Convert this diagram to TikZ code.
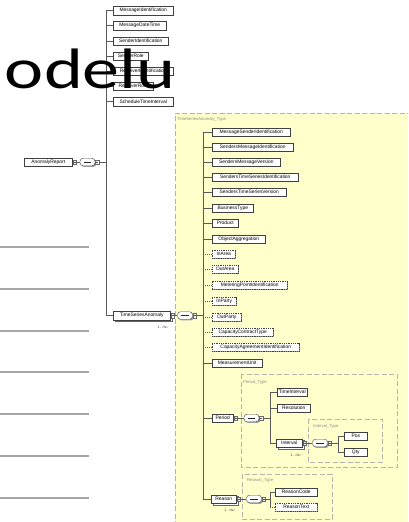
\documentclass[tikz,border=0pt]{standalone}
\usepackage{fontspec}
\newfontfamily\bigfont{Carlito}
\newfontfamily\smfont{Liberation Sans}
\usetikzlibrary{shadows,calc}
\definecolor{typeyellow}{RGB}{255,255,204}
\definecolor{dashgrey}{RGB}{180,180,170}
\tikzset{
  x=1pt,y=-1pt,
  shd/.style={drop shadow={shadow xshift=1.2pt,shadow yshift=-1.2pt,fill=black!40,opacity=1}},
  el/.style={draw=black!75,fill=white,line width=0.5pt,anchor=west,inner sep=0pt,minimum height=8.5pt,
    font=\smfont\fontsize{4.9}{5.5}\selectfont,text=black,shd},
  opt/.style={el,dash pattern=on 1pt off 0.8pt},
  multi/.style={el,copy shadow={shadow xshift=1.8pt,shadow yshift=-1.8pt,fill=white,draw=black!60}},
  seq/.style={draw=black!70,fill=white,rounded corners=3pt,minimum width=15pt,minimum height=7.5pt,inner sep=0pt,line width=0.45pt,shd},
  sq/.style={draw=black!60,fill=white,minimum width=3.6pt,minimum height=4.6pt,inner sep=0pt,line width=0.4pt,anchor=west,
    path picture={\draw[black!70,line width=0.35pt] ([xshift=-1pt]path picture bounding box.center) -- ([xshift=1pt]path picture bounding box.center);}},
  conn/.style={draw=black!65,line width=0.5pt},
  optconn/.style={conn,dash pattern=on 1pt off 1pt},
  typebox/.style={draw=dashgrey,fill=typeyellow,line width=0.8pt,dash pattern=on 5pt off 2.5pt},
  typelbl/.style={font=\smfont\fontsize{4.2}{5}\selectfont,text=black!45,anchor=west,inner sep=0pt},
  mult/.style={font=\smfont\fontsize{3.8}{4}\selectfont,text=black!70,inner sep=0pt},
  slideline/.style={draw=black!35,line width=1.5pt},
}
\newcommand{\compo}[3]{% name, center x, center y
  \node[seq] (#1) at (#2,#3) {};
  \fill[black!85] ($(#1.center)+(-3.8,-0.5)$) rectangle ($(#1.center)+(3.8,0.5)$);
  \node[sq] (#1s) at (#1.east) {};
}
\begin{document}
\begin{tikzpicture}
\useasboundingbox (0,0) rectangle (408,522);
\begin{scope}
\clip (0,0) rectangle (408,522);
\fill[white] (0,0) rectangle (408,522);
% slide table lines
\foreach \yy in {247,289,331,372,414,456,498} \draw[slideline] (0,\yy) -- (89,\yy);
% main type area
\fill[typeyellow] (175,113) rectangle (412,526);
\draw[draw=dashgrey,line width=0.8pt,dash pattern=on 5pt off 2.5pt] (175,526) -- (175,113) -- (412,113);
\node[typelbl] (tsatype) at (177,119) {TimeSeriesAnomaly\_Type};
% nested type boxes
\draw[typebox] (241,374) rectangle (397,467);
\node[typelbl] (pertype) at (243,382) {Period\_Type};
\draw[typebox] (308,419) rectangle (382,462);
\node[typelbl] (inttype) at (313,426) {Interval\_Type};
\draw[typebox] (242,474) rectangle (332,519);
\node[typelbl] (reatype) at (247,480) {Reason\_Type};

% bus coordinates
\coordinate (busA) at (106,0);
\coordinate (busB) at (203,0);
\coordinate (busP) at (270,0);
\coordinate (busI) at (338,0);
\coordinate (busR) at (270,0);

% root
\node[el,minimum width=48pt] (ar) at (24,162) {AnomalyReport};
\node[sq] (arx) at (ar.east) {};
\compo{arc}{87.5}{162}

% top children
\node[el,minimum width=60pt] (mi) at (113,10.5) {MessageIdentification};
\node[el,minimum width=53pt] (mdt) at (113,25.5) {MessageDateTime};
\node[el,minimum width=55pt] (sid) at (113,41) {SenderIdentification};
\node[el,minimum width=35pt] (sr) at (113,56) {SenderRole};
\node[el,minimum width=60pt] (rid) at (113,71) {ReceiverIdentification};
\node[el,minimum width=40pt] (rr) at (113,86) {ReceiverRole};
\node[el,minimum width=60pt] (sti) at (113,101.5) {ScheduleTimeInterval};
\node[multi,minimum width=57pt] (tsa) at (113,315.5) {TimeSeriesAnomaly};
\node[mult] (tsam) at (163,327) {1..$\infty$};
\node[sq] (tsax) at (tsa.east) {};
\compo{tsac}{185}{315.5}

% TSA children
\node[el,minimum width=78pt] (c1) at (212,132) {MessageSenderIdentification};
\node[el,minimum width=81pt] (c2) at (212,147) {SendersMessageIdentification};
\node[el,minimum width=68pt] (c3) at (212,162) {SendersMessageVersion};
\node[el,minimum width=86pt] (c4) at (212,177) {SendersTimeSeriesIdentification};
\node[el,minimum width=74pt] (c5) at (212,192) {SendersTimeSeriesVersion};
\node[el,minimum width=41pt] (c6) at (212,208) {BusinessType};
\node[el,minimum width=26pt] (c7) at (212,223) {Product};
\node[el,minimum width=53pt] (c8) at (212,239) {ObjectAggregation};
\node[opt,minimum width=23pt] (c9) at (212,254) {InArea};
\node[opt,minimum width=26pt] (c10) at (212,269) {OutArea};
\node[opt,minimum width=75pt] (c11) at (212,285) {MeteringPointIdentification};
\node[opt,minimum width=24pt] (c12) at (212,301) {InParty};
\node[opt,minimum width=29pt] (c13) at (212,317) {OutParty};
\node[opt,minimum width=61pt] (c14) at (212,332) {CapacityContractType};
\node[opt,minimum width=87pt] (c15) at (212,347) {CapacityAgreementIdentification};
\node[el,minimum width=50pt] (c16) at (212,363) {MeasurementUnit};
\node[el,minimum width=21pt] (per) at (212,418) {Period};
\node[sq] (perx) at (per.east) {};
\compo{perc}{251.5}{418}
\node[multi,minimum width=25pt] (rea) at (211,499) {Reason};
\node[mult] (ream) at (230,510) {1..$\infty$};
\node[sq] (reax) at (rea.east) {};
\compo{reac}{254}{499}

% Period children
\node[el,minimum width=30pt] (ti) at (277,392) {TimeInterval};
\node[el,minimum width=33pt] (res) at (277,408) {Resolution};
\node[multi,minimum width=26pt] (int) at (276,443) {Interval};
\node[mult] (intm) at (296,455) {1..$\infty$};
\node[sq] (intx) at (int.east) {};
\compo{intc}{320}{443}
\node[el,minimum width=23pt] (pos) at (344,436) {Pos};
\node[el,minimum width=23pt] (qty) at (344,452) {Qty};

% Reason children
\node[el,minimum width=42pt] (rc) at (275,492) {ReasonCode};
\node[opt,minimum width=42pt] (rt) at (275,507) {ReasonText};

% connectors: root
\draw[conn] (arx.east) -- (arc.west);
\draw[conn] (arcs.east) -- (arcs.east -| busA);
\draw[conn] (mi.west -| busA) -- (tsa.west -| busA);
\foreach \n in {mi,mdt,sid,sr,rid,rr,sti,tsa} \draw[conn] (\n.west -| busA) -- (\n.west);
% TSA
\draw[conn] (tsax.east) -- (tsac.west);
\draw[conn] (tsacs.east) -- (tsacs.east -| busB);
\draw[conn] (c1.west -| busB) -- (rea.west -| busB);
\foreach \n in {c1,c2,c3,c4,c5,c6,c7,c8,c16,per,rea} \draw[conn] (\n.west -| busB) -- (\n.west);
\foreach \n in {c9,c10,c11,c12,c13,c14,c15} \draw[optconn] (\n.west -| busB) -- (\n.west);
% Period
\draw[conn] (perx.east) -- (perc.west);
\draw[conn] (percs.east) -- (percs.east -| busP);
\draw[conn] (ti.west -| busP) -- (int.west -| busP);
\foreach \n in {ti,res,int} \draw[conn] (\n.west -| busP) -- (\n.west);
% Interval
\draw[conn] (intx.east) -- (intc.west);
\draw[conn] (intcs.east) -- (intcs.east -| busI);
\draw[conn] (pos.west -| busI) -- (qty.west -| busI);
\foreach \n in {pos,qty} \draw[conn] (\n.west -| busI) -- (\n.west);
% Reason
\draw[conn] (reax.east) -- (reac.west);
\draw[conn] (reacs.east) -- (reacs.east -| busR);
\draw[conn] (rc.west -| busR) -- (rt.west -| busR);
\draw[conn] (rc.west -| busR) -- (rc.west);
\draw[optconn] (rt.west -| busR) -- (rt.west);

% big slide text on top
\node[anchor=base east,inner sep=0pt,font=\bigfont\fontsize{57}{60}\selectfont] (title) at (176,88) {\scalebox{1.3}[1]{modelu}};
\end{scope}
\end{tikzpicture}
\end{document}
